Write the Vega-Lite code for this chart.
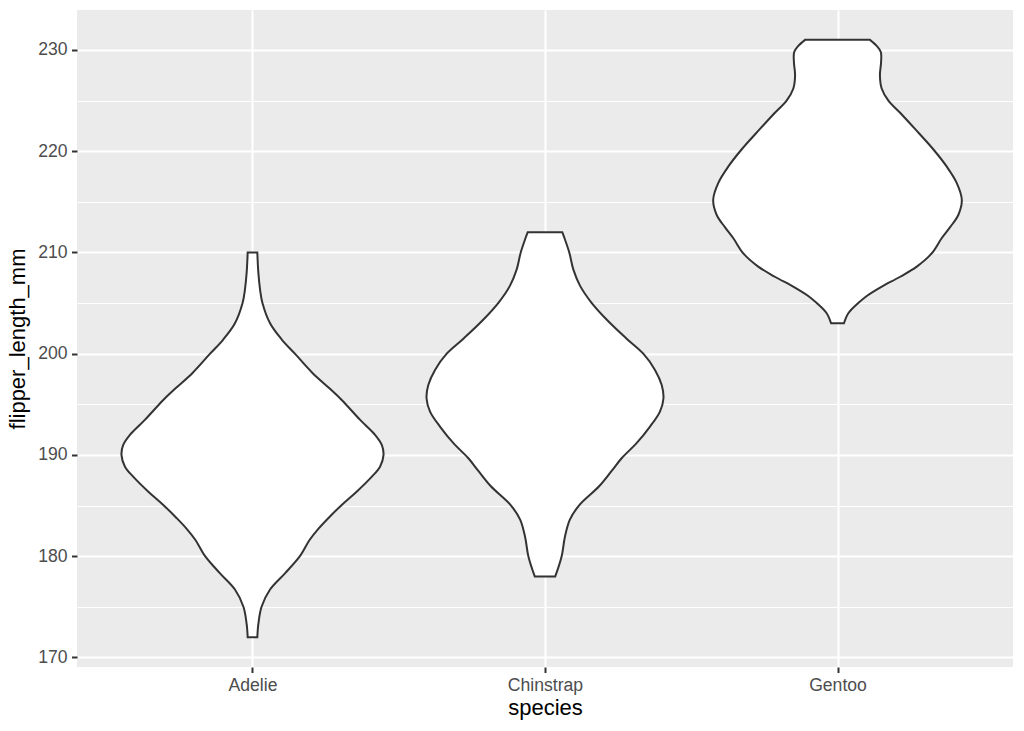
{
  "$schema": "https://vega.github.io/schema/vega-lite/v6.json",
  "width": 936,
  "height": 657,
  "autosize": "none",
  "padding": {"left": 77, "top": 10, "right": 11, "bottom": 64},
  "background": "white",
  "config": {
    "view": {"fill": "#ebebeb", "stroke": null},
    "font": "Liberation Sans",
    "axis": {
      "domain": false,
      "gridColor": "white",
      "tickColor": "#333333",
      "tickSize": 5.5,
      "tickWidth": 2,
      "labelColor": "#4d4d4d",
      "labelFontSize": 17.6,
      "labelPadding": 4.4,
      "titleColor": "black",
      "titleFontSize": 22,
      "titleFontWeight": "normal"
    }
  },
  "data": {
    "values": [
      {"species": "Adelie", "flipper_length_mm": 172, "violinwidth": 0.0165},
      {"species": "Adelie", "flipper_length_mm": 173.3, "violinwidth": 0.020},
      {"species": "Adelie", "flipper_length_mm": 175, "violinwidth": 0.031},
      {"species": "Adelie", "flipper_length_mm": 176.7, "violinwidth": 0.060},
      {"species": "Adelie", "flipper_length_mm": 178.3, "violinwidth": 0.111},
      {"species": "Adelie", "flipper_length_mm": 180, "violinwidth": 0.162},
      {"species": "Adelie", "flipper_length_mm": 181.6, "violinwidth": 0.195},
      {"species": "Adelie", "flipper_length_mm": 182.7, "violinwidth": 0.225},
      {"species": "Adelie", "flipper_length_mm": 183.75, "violinwidth": 0.259},
      {"species": "Adelie", "flipper_length_mm": 185.06, "violinwidth": 0.305},
      {"species": "Adelie", "flipper_length_mm": 186.37, "violinwidth": 0.356},
      {"species": "Adelie", "flipper_length_mm": 187.86, "violinwidth": 0.408},
      {"species": "Adelie", "flipper_length_mm": 188.84, "violinwidth": 0.436},
      {"species": "Adelie", "flipper_length_mm": 190, "violinwidth": 0.448},
      {"species": "Adelie", "flipper_length_mm": 190.99, "violinwidth": 0.442},
      {"species": "Adelie", "flipper_length_mm": 191.98, "violinwidth": 0.419},
      {"species": "Adelie", "flipper_length_mm": 193.46, "violinwidth": 0.368},
      {"species": "Adelie", "flipper_length_mm": 195.43, "violinwidth": 0.305},
      {"species": "Adelie", "flipper_length_mm": 196.6, "violinwidth": 0.262},
      {"species": "Adelie", "flipper_length_mm": 198.1, "violinwidth": 0.205},
      {"species": "Adelie", "flipper_length_mm": 200, "violinwidth": 0.145},
      {"species": "Adelie", "flipper_length_mm": 201.4, "violinwidth": 0.100},
      {"species": "Adelie", "flipper_length_mm": 203, "violinwidth": 0.060},
      {"species": "Adelie", "flipper_length_mm": 205, "violinwidth": 0.034},
      {"species": "Adelie", "flipper_length_mm": 206.3, "violinwidth": 0.026},
      {"species": "Adelie", "flipper_length_mm": 208, "violinwidth": 0.020},
      {"species": "Adelie", "flipper_length_mm": 210, "violinwidth": 0.0165},
      {"species": "Chinstrap", "flipper_length_mm": 178, "violinwidth": 0.035},
      {"species": "Chinstrap", "flipper_length_mm": 180, "violinwidth": 0.057},
      {"species": "Chinstrap", "flipper_length_mm": 181.9, "violinwidth": 0.068},
      {"species": "Chinstrap", "flipper_length_mm": 183.6, "violinwidth": 0.085},
      {"species": "Chinstrap", "flipper_length_mm": 185, "violinwidth": 0.116},
      {"species": "Chinstrap", "flipper_length_mm": 186.9, "violinwidth": 0.185},
      {"species": "Chinstrap", "flipper_length_mm": 188.5, "violinwidth": 0.230},
      {"species": "Chinstrap", "flipper_length_mm": 189.67, "violinwidth": 0.262},
      {"species": "Chinstrap", "flipper_length_mm": 191.16, "violinwidth": 0.313},
      {"species": "Chinstrap", "flipper_length_mm": 192.8, "violinwidth": 0.359},
      {"species": "Chinstrap", "flipper_length_mm": 194.28, "violinwidth": 0.393},
      {"species": "Chinstrap", "flipper_length_mm": 195.6, "violinwidth": 0.405},
      {"species": "Chinstrap", "flipper_length_mm": 196.9, "violinwidth": 0.399},
      {"species": "Chinstrap", "flipper_length_mm": 198.4, "violinwidth": 0.376},
      {"species": "Chinstrap", "flipper_length_mm": 200, "violinwidth": 0.336},
      {"species": "Chinstrap", "flipper_length_mm": 201.48, "violinwidth": 0.279},
      {"species": "Chinstrap", "flipper_length_mm": 203.3, "violinwidth": 0.213},
      {"species": "Chinstrap", "flipper_length_mm": 205, "violinwidth": 0.160},
      {"species": "Chinstrap", "flipper_length_mm": 206.7, "violinwidth": 0.120},
      {"species": "Chinstrap", "flipper_length_mm": 208.3, "violinwidth": 0.097},
      {"species": "Chinstrap", "flipper_length_mm": 210, "violinwidth": 0.083},
      {"species": "Chinstrap", "flipper_length_mm": 211.3, "violinwidth": 0.068},
      {"species": "Chinstrap", "flipper_length_mm": 212, "violinwidth": 0.059},
      {"species": "Gentoo", "flipper_length_mm": 203, "violinwidth": 0.022},
      {"species": "Gentoo", "flipper_length_mm": 204, "violinwidth": 0.037},
      {"species": "Gentoo", "flipper_length_mm": 205, "violinwidth": 0.071},
      {"species": "Gentoo", "flipper_length_mm": 205.7, "violinwidth": 0.100},
      {"species": "Gentoo", "flipper_length_mm": 206.6, "violinwidth": 0.150},
      {"species": "Gentoo", "flipper_length_mm": 207.6, "violinwidth": 0.214},
      {"species": "Gentoo", "flipper_length_mm": 208.6, "violinwidth": 0.271},
      {"species": "Gentoo", "flipper_length_mm": 209.9, "violinwidth": 0.322},
      {"species": "Gentoo", "flipper_length_mm": 211.4, "violinwidth": 0.356},
      {"species": "Gentoo", "flipper_length_mm": 212.5, "violinwidth": 0.385},
      {"species": "Gentoo", "flipper_length_mm": 213.7, "violinwidth": 0.413},
      {"species": "Gentoo", "flipper_length_mm": 215.2, "violinwidth": 0.425},
      {"species": "Gentoo", "flipper_length_mm": 216.9, "violinwidth": 0.407},
      {"species": "Gentoo", "flipper_length_mm": 218.5, "violinwidth": 0.373},
      {"species": "Gentoo", "flipper_length_mm": 220.17, "violinwidth": 0.328},
      {"species": "Gentoo", "flipper_length_mm": 222.2, "violinwidth": 0.265},
      {"species": "Gentoo", "flipper_length_mm": 223.8, "violinwidth": 0.214},
      {"species": "Gentoo", "flipper_length_mm": 225, "violinwidth": 0.174},
      {"species": "Gentoo", "flipper_length_mm": 226.2, "violinwidth": 0.151},
      {"species": "Gentoo", "flipper_length_mm": 227.5, "violinwidth": 0.145},
      {"species": "Gentoo", "flipper_length_mm": 228.8, "violinwidth": 0.149},
      {"species": "Gentoo", "flipper_length_mm": 229.8, "violinwidth": 0.148},
      {"species": "Gentoo", "flipper_length_mm": 230.4, "violinwidth": 0.134},
      {"species": "Gentoo", "flipper_length_mm": 231, "violinwidth": 0.111}
    ]
  },
  "transform": [
    {"calculate": "indexof(['Adelie','Chinstrap','Gentoo'], datum.species) + 1 - datum.violinwidth", "as": "xmin"},
    {"calculate": "indexof(['Adelie','Chinstrap','Gentoo'], datum.species) + 1 + datum.violinwidth", "as": "xmax"}
  ],
  "mark": {
    "type": "area",
    "orient": "horizontal",
    "interpolate": "catmull-rom",
    "fill": "white",
    "stroke": "#333333",
    "strokeWidth": 2
  },
  "encoding": {
    "y": {
      "field": "flipper_length_mm",
      "type": "quantitative",
      "scale": {"domain": [169.05, 233.95], "nice": false, "zero": false},
      "axis": {
        "title": "flipper_length_mm",
        "values": [170, 175, 180, 185, 190, 195, 200, 205, 210, 215, 220, 225, 230],
        "labelExpr": "datum.value % 10 === 0 ? datum.label : ''",
        "gridWidth": {"condition": {"test": "datum.value % 10 === 0", "value": 2.1}, "value": 1.07},
        "tickOpacity": {"condition": {"test": "datum.value % 10 === 0", "value": 1}, "value": 0},
        "titlePadding": 8
      }
    },
    "x": {
      "field": "xmin",
      "type": "quantitative",
      "scale": {"domain": [0.4, 3.6], "nice": false, "zero": false},
      "axis": {
        "title": "species",
        "values": [1, 2, 3],
        "labelExpr": "['', 'Adelie', 'Chinstrap', 'Gentoo'][datum.value]",
        "gridWidth": 2.1,
        "titlePadding": 3
      }
    },
    "x2": {"field": "xmax"},
    "detail": {"field": "species", "type": "nominal"}
  }
}
